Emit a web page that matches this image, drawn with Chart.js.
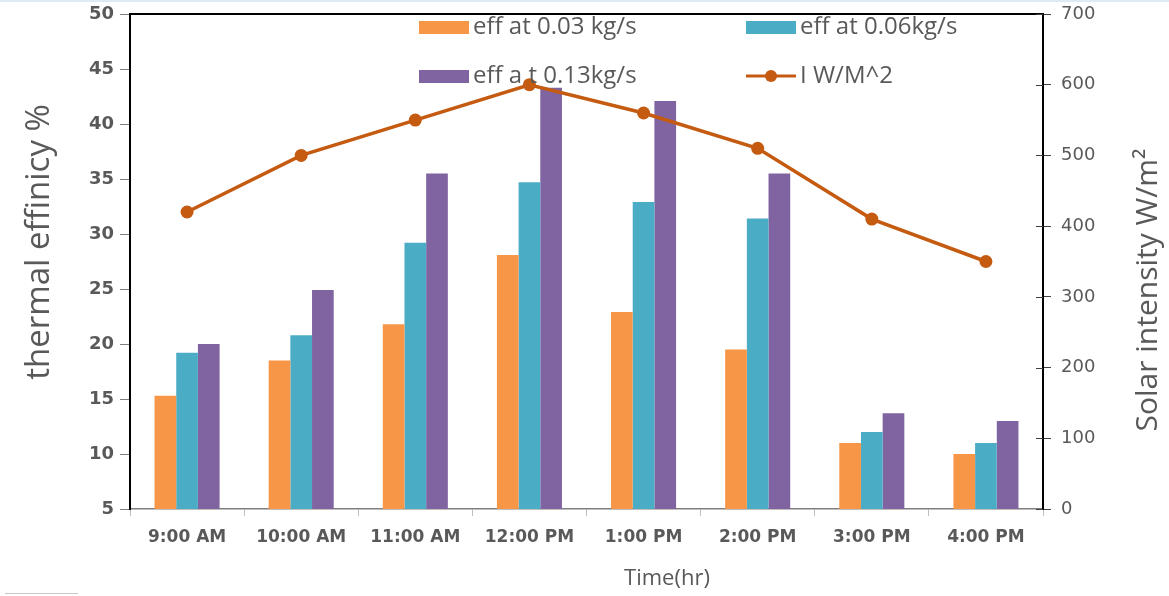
<!DOCTYPE html>
<html>
<head>
<meta charset="utf-8">
<script src="https://cdn.jsdelivr.net/npm/chart.js@4.4.1/dist/chart.umd.min.js"></script>
<style>
  html, body { margin: 0; padding: 0; background: #fff; }
  body { border-top: 2px solid #dde9f4; box-sizing: border-box; }
  #wrap { width: 1169px; height: 594px; position: relative; }
  #mark { position: absolute; left: 5px; top: 591px; width: 73px; height: 1px; background: #c8c8c8; }
</style>
</head>
<body>
<div id="wrap"><canvas id="effChart"></canvas><div id="mark"></div></div>
<script>
var times = ['9:00 AM', '10:00 AM', '11:00 AM', '12:00 PM', '1:00 PM', '2:00 PM', '3:00 PM', '4:00 PM'];
var eff003 = [15.3, 18.5, 21.8, 28.1, 22.9, 19.5, 11.0, 10.0];
var eff006 = [19.2, 20.8, 29.2, 34.7, 32.9, 31.4, 12.0, 11.0];
var eff013 = [20.0, 24.9, 35.5, 43.3, 42.1, 35.5, 13.7, 13.0];
var intensity = [420, 500, 550, 600, 560, 510, 410, 350];

var FONT = "'Open Sans', 'Liberation Sans', sans-serif";
var WIDE = "'DejaVu Sans', sans-serif";
var GREY = '#595959';

// legend as a 2x2 block inside the plot + axis titles placed like the excel original
var extras = {
  id: 'extras',
  afterDraw: function(chart) {
    var ctx = chart.ctx;
    var a = chart.chartArea;
    var spots = [[a.left + 289, a.top + 13], [a.left + 616, a.top + 13], [a.left + 289, a.top + 62], [a.left + 616, a.top + 62]];
    ctx.save();
    ctx.font = '24px ' + FONT;
    ctx.textBaseline = 'middle';
    chart.data.datasets.forEach(function(ds, i) {
      var x = spots[i][0], y = spots[i][1];
      if (ds.type === 'line') {
        ctx.strokeStyle = ds.borderColor;
        ctx.lineWidth = 3;
        ctx.beginPath(); ctx.moveTo(x, y); ctx.lineTo(x + 50, y); ctx.stroke();
        ctx.fillStyle = ds.borderColor;
        ctx.beginPath(); ctx.arc(x + 25, y, 6, 0, Math.PI * 2); ctx.fill();
      } else {
        ctx.fillStyle = ds.backgroundColor;
        ctx.fillRect(x, y - 6, 50, 13);
      }
      ctx.fillStyle = GREY;
      ctx.fillText(ds.label, x + 54, y);
    });

    // top border of plot
    ctx.strokeStyle = '#000';
    ctx.lineWidth = 2;
    ctx.beginPath(); ctx.moveTo(a.left, a.top); ctx.lineTo(a.right, a.top); ctx.stroke();

    // right axis ticks also reach inside
    var r = chart.scales.y1;
    ctx.strokeStyle = '#404040';
    ctx.lineWidth = 1;
    r.ticks.forEach(function(t) {
      var py = Math.round(r.getPixelForValue(t.value)) + 0.5;
      ctx.beginPath(); ctx.moveTo(a.right - 7, py); ctx.lineTo(a.right, py); ctx.stroke();
    });

    // axis titles
    ctx.fillStyle = GREY;
    ctx.textAlign = 'center';
    ctx.font = '22px ' + FONT;
    ctx.fillText('Time(hr)', 667, 577);
    ctx.save();
    ctx.translate(40, 240);
    ctx.rotate(-Math.PI / 2);
    ctx.font = '33px ' + FONT;
    ctx.fillText('thermal effinicy %', 0, 0);
    ctx.restore();
    ctx.save();
    ctx.translate(1148, 288);
    ctx.rotate(-Math.PI / 2);
    ctx.font = '30px ' + FONT;
    ctx.fillText('Solar intensity W/m\u00B2', 0, 0);
    ctx.restore();
    ctx.restore();
  }
};

function noPad(s) { s.paddingTop = 0; s.paddingBottom = 0; }

new Chart(document.getElementById('effChart'), {
  type: 'bar',
  data: {
    labels: times,
    datasets: [
      { label: 'eff at 0.03 kg/s', data: eff003, backgroundColor: '#F79646', yAxisID: 'y', order: 1 },
      { label: 'eff at 0.06kg/s', data: eff006, backgroundColor: '#4BACC6', yAxisID: 'y', order: 1 },
      { label: 'eff a t 0.13kg/s', data: eff013, backgroundColor: '#8064A2', yAxisID: 'y', order: 1 },
      { type: 'line', label: 'I W/M^2', data: intensity, borderColor: '#C55A11', backgroundColor: '#C55A11',
        borderWidth: 3.5, pointRadius: 6.5, pointBackgroundColor: '#C55A11', pointBorderWidth: 0,
        tension: 0, yAxisID: 'y1', order: 0 }
    ]
  },
  options: {
    responsive: true,
    maintainAspectRatio: false,
    animation: false,
    layout: { padding: { top: 12, left: 0, right: 0, bottom: 0 } },
    datasets: { bar: { categoryPercentage: 0.57, barPercentage: 1.0 } },
    plugins: { legend: { display: false }, tooltip: { enabled: false } },
    scales: {
      x: {
        grid: { drawOnChartArea: false, tickLength: 7, color: '#bfbfbf' },
        border: { color: '#7f7f7f', width: 1.5 },
        ticks: { color: GREY, font: { family: WIDE, size: 17, weight: 'bold' }, padding: 11, maxRotation: 0 },
        afterFit: function(s) { s.height = 87; }
      },
      y: {
        position: 'left',
        min: 5, max: 50,
        ticks: { stepSize: 5, color: GREY, font: { family: WIDE, size: 18, weight: 'bold' }, padding: 6 },
        grid: { drawOnChartArea: false, tickLength: 10, color: '#7f7f7f' },
        border: { color: '#000', width: 2 },
        afterFit: function(s) { s.width = 130; noPad(s); }
      },
      y1: {
        position: 'right',
        min: 0, max: 700,
        ticks: { stepSize: 100, color: GREY, font: { family: WIDE, size: 18 }, padding: 10 },
        grid: { drawOnChartArea: false, tickLength: 8, color: '#404040' },
        border: { color: '#000', width: 2 },
        afterFit: function(s) { s.width = 126; noPad(s); }
      }
    }
  },
  plugins: [extras]
});
</script>
</body>
</html>
